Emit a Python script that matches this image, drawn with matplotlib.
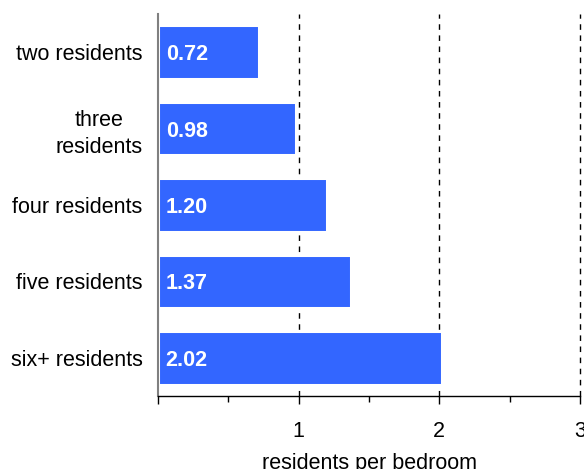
import matplotlib
matplotlib.use("Agg")
import matplotlib.pyplot as plt
from matplotlib.ticker import FixedLocator

categories = ["two residents", "three\nresidents", "four residents", "five residents", "six+ residents"]
values = [0.72, 0.98, 1.20, 1.37, 2.02]
value_labels = ["0.72", "0.98", "1.20", "1.37", "2.02"]

plt.rcParams['font.family'] = ['Liberation Sans', 'DejaVu Sans']

fig = plt.figure(figsize=(5.84, 4.69), dpi=100)
ax = fig.add_axes([158/584, 1-396/469, (580-158)/584, (396-14)/469])

y = list(range(len(categories)))
ax.barh(y, values, height=0.7, color="#3366ff", edgecolor="white", linewidth=2.2, zorder=2)
for yi, lab in zip(y, value_labels):
    ax.text(0.055, yi, lab, color="white", fontweight="bold", fontsize=15.5,
            va="center_baseline", ha="left", zorder=3)

ax.set_xlim(0, 3)
ax.set_ylim(len(categories)-0.5, -0.5)
ax.set_yticks(y)
ax.set_yticklabels(categories, fontsize=15.5, multialignment="center", linespacing=1.35)
ax.tick_params(axis="y", length=0, pad=11)

ax.xaxis.set_major_locator(FixedLocator([0, 1, 2, 3]))
ax.set_xticklabels(["", "1", "2", "3"], fontsize=15.5)
ax.xaxis.set_minor_locator(FixedLocator([0.5, 1.5, 2.5]))
ax.tick_params(axis="x", which="major", length=6, width=1, pad=12, direction="out")
ax.tick_params(axis="x", which="minor", length=4, width=1, direction="out")

for xv in [1, 2, 3]:
    ax.axvline(xv, color="black", linestyle=(0, (4, 4)), linewidth=1, zorder=1, clip_on=False)

ax.spines["top"].set_visible(False)
ax.spines["right"].set_visible(False)
ax.spines["left"].set_color("#808080")
ax.spines["left"].set_linewidth(1.5)
ax.spines["bottom"].set_color("black")
ax.spines["bottom"].set_linewidth(1)

ax.set_xlabel("residents per bedroom", fontsize=15.5, labelpad=8)

fig.savefig("out.png", dpi=100)
